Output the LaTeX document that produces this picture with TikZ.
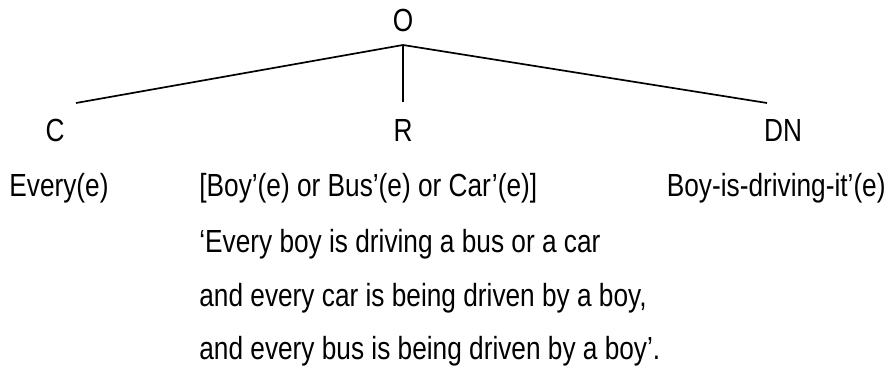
\documentclass[tikz,border=0pt]{standalone}
\usepackage{fontspec}
\setmainfont[FakeStretch=0.82]{Liberation Sans}
\usetikzlibrary{positioning}

\begin{document}
\begin{tikzpicture}[
    x=0.5pt, y=-0.5pt,
    txt/.style={inner sep=0pt, font=\fontsize{16}{19}\selectfont},
    branch/.style={line width=0.85pt, black}
]
\useasboundingbox (0,0) rectangle (890,368);
% tree
\node[txt, anchor=base] (root) at (403,32) {O};
\node[txt, anchor=base] (cnode) at (55,142) {C};
\node[txt, anchor=base] (rnode) at (403,142) {R};
\node[txt, anchor=base] (dnode) at (783,142) {DN};
\coordinate (fork) at (403,45);
\coordinate (cend) at (76,103);
\coordinate (rend) at (403,102);
\coordinate (dend) at (767,103);

% formulas
\node[txt, anchor=base west] (every) at (9,197) {Every(e)};
\node[txt, anchor=base west] (restr) at (199,197) {[Boy’(e) or Bus’(e) or Car’(e)]};
\node[txt, anchor=base east] (nucl) at (886,197) {Boy-is-driving-it’(e)};
\node[txt, anchor=base west] (para1) at (199,253) {‘Every boy is driving a bus or a car};
\node[txt, anchor=base west] (para2) at (199,307) {and every car is being driven by a boy,};
\node[txt, anchor=base west] (para3) at (199,360) {and every bus is being driven by a boy’.};

\draw[branch] (fork) -- (cend);
\draw[branch] (fork) -- (rend);
\draw[branch] (fork) -- (dend);
\end{tikzpicture}
\end{document}
